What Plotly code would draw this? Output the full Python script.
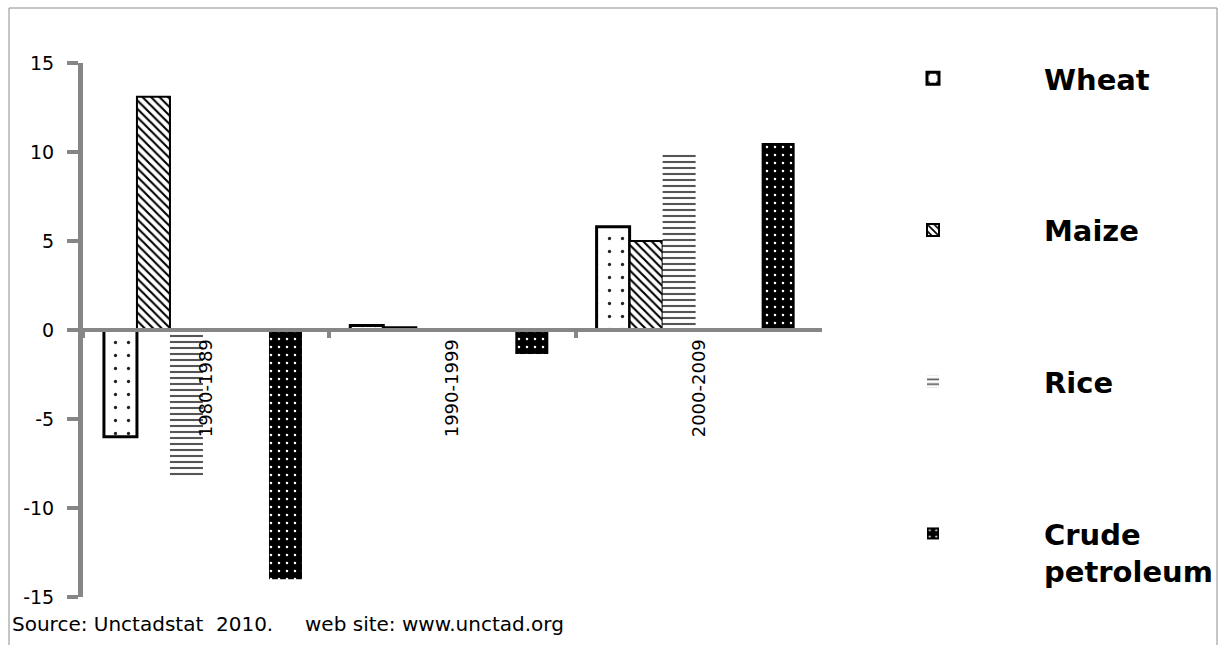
import plotly.graph_objects as go

categories = ["1980-1989", "1990-1999", "2000-2009"]
wheat = [-6.0, 0.25, 5.8]
maize = [13.1, 0.15, 5.0]
rice = [-8.2, -0.15, 9.9]
crude = [-14.0, -1.35, 10.5]
series_names = ["Wheat", "Maize", "Rice", "Crude<br>petroleum"]
y_ticks = [-15, -10, -5, 0, 5, 10, 15]
y_tick_text = ["-15", "-10", "-5", "0", "5", "10", "15"]

W, H = 1219, 645
GRAY = "#868686"
FONT = "DejaVu Sans"


def fy(Y):
    """screen pixel row -> paper fraction"""
    return (H - Y) / H


bar_w = 0.134
offsets = [-0.415, -0.281, -0.147, 0.255]

styles = [
    dict(pattern=dict(shape=".", bgcolor="white", fgcolor="#222222", size=13, solidity=0.05, fillmode="replace"),
         line=dict(color="black", width=3)),
    dict(pattern=dict(shape="\\", bgcolor="white", fgcolor="black", size=6, solidity=0.35, fillmode="replace"),
         line=dict(color="black", width=2)),
    dict(pattern=dict(shape="-", bgcolor="white", fgcolor="#555555", size=6, solidity=0.35, fillmode="replace"),
         line=dict(color="rgba(0,0,0,0)", width=0)),
    dict(pattern=dict(shape=".", bgcolor="black", fgcolor="white", size=8, solidity=0.08, fillmode="replace"),
         line=dict(color="rgba(0,0,0,0)", width=0)),
]

fig = go.Figure()
for i, (name, vals) in enumerate(zip(series_names, [wheat, maize, rice, crude])):
    fig.add_trace(go.Bar(
        x=categories, y=vals, name=name, legendgroup=f"g{i}",
        width=bar_w, offset=offsets[i],
        marker=dict(color="white", pattern=styles[i]["pattern"], line=styles[i]["line"]),
        hoverinfo="skip",
    ))

yd0 = fy(597)
yd1 = fy(63)
fig.update_layout(
    width=W, height=H,
    margin=dict(l=0, r=0, t=0, b=0, autoexpand=False),
    paper_bgcolor="white", plot_bgcolor="white",
    barmode="overlay",
    showlegend=True,
    legend=dict(
        x=822 / W, xanchor="left", y=fy(53), yanchor="top",
        itemwidth=212, tracegroupgap=111, traceorder="grouped", valign="top",
        font=dict(family=FONT, size=29, color="black", weight="bold"),
        bgcolor="rgba(0,0,0,0)",
    ),
    xaxis=dict(
        type="category", domain=[83 / W, 822 / W], range=[-0.5, 2.5],
        anchor="free", position=(yd0 + yd1) / 2, automargin=False,
        showline=True, linecolor=GRAY, linewidth=4,
        ticks="outside", tickson="boundaries", ticklen=6, tickwidth=4, tickcolor=GRAY,
        tickangle=-90, tickfont=dict(family=FONT, size=18, color="black"),
        showgrid=False, zeroline=False,
    ),
    yaxis=dict(
        domain=[yd0, yd1], range=[-15, 15], tickvals=y_ticks, ticktext=y_tick_text,
        automargin=False,
        showline=True, linecolor=GRAY, linewidth=5,
        ticks="outside", ticklen=11, tickwidth=4, tickcolor=GRAY,
        tickfont=dict(family=FONT, size=19, color="black"), ticklabelstandoff=9,
        showgrid=False, zeroline=False,
    ),
    shapes=[dict(type="rect", xref="paper", yref="paper",
                 x0=9 / W, x1=1217 / W, y0=-0.2, y1=fy(8),
                 line=dict(color="#8c8c8c", width=1), fillcolor="rgba(0,0,0,0)")],
    annotations=[dict(
        text="Source: Unctadstat\u00a0 2010.\u00a0\u00a0\u00a0\u00a0 web site: www.unctad.org",
        xref="paper", yref="paper", x=10 / W, y=fy(624),
        xanchor="left", yanchor="middle", showarrow=False,
        font=dict(family=FONT, size=20, color="black"),
    )],
)

post = (
    "document.documentElement.style.margin='0';"
    "document.body.style.margin='0';document.body.style.padding='0';"
    "document.body.style.overflow='hidden';"
    "var d=document.querySelector('.plotly-graph-div');"
    "d.style.position='absolute';d.style.top='0px';d.style.left='0px';"
)
fig.write_html("out.html", config={"displayModeBar": False}, post_script=post)
